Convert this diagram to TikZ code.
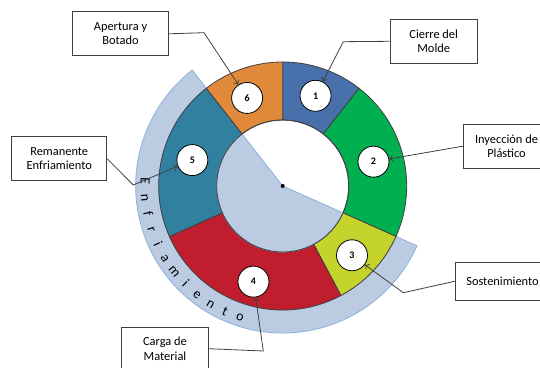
\documentclass[tikz,border=0pt]{standalone}
\usepackage{fontspec}
\usetikzlibrary{arrows.meta}
\setmainfont{Carlito}
\definecolor{segblue}{RGB}{72,112,170}
\definecolor{seggreen}{RGB}{0,176,80}
\definecolor{segyellow}{RGB}{196,212,44}
\definecolor{segred}{RGB}{192,30,46}
\definecolor{segteal}{RGB}{49,128,160}
\definecolor{segorange}{RGB}{226,138,60}
\definecolor{coolfill}{RGB}{187,204,226}
\definecolor{coolline}{RGB}{140,176,220}
\definecolor{darkline}{RGB}{64,64,64}
\newcommand{\ringseg}[3]{\draw[seg, fill=#3] (#1:66) arc (#1:#2:66) -- (#2:124) arc (#2:#1:124) -- cycle;}

\begin{document}
\begin{tikzpicture}
    [x=1pt, y=1pt,
    seg/.style={draw=darkline, line width=0.8pt},
    cool/.style={fill=coolfill, draw=coolline, line width=0.8pt},
    numcirc/.style={circle, draw=black, fill=white, line width=0.8pt, minimum size=31pt, inner sep=0pt, font=\fontsize{10}{10}\selectfont\bfseries},
    callout/.style={rectangle, draw=darkline, fill=white, line width=0.9pt, align=center, minimum height=44pt, inner sep=2pt, font=\fontsize{12.4}{14.5}\selectfont},
    bandtext/.style={anchor=base, inner sep=0pt, font=\fontsize{14}{14}\selectfont},
    arrow/.style={-{To[length=4pt, width=7pt]}, draw=darkline, line width=0.8pt},
    ]
    \useasboundingbox (-282.7,-181) rectangle (257.3,186);
    % enfriamiento band
    \draw[cool] (128:124) arc (128:336:124) -- (336:147) arc (336:128:147) -- cycle;
    % ring
    \ringseg{52}{90}{segblue}
    \ringseg{-24}{52}{seggreen}
    \ringseg{-62}{-24}{segyellow}
    \ringseg{-156}{-62}{segred}
    \ringseg{128}{204}{segteal}
    \ringseg{90}{128}{segorange}
    \draw[cool] (0,0) -- (128:66) arc (128:336:66) -- cycle;
    \draw[seg] (0,0) circle (66);
    \fill (0,0) circle (2);
    \foreach \ch [count=\i] in {E,n,f,r,i,a,m,i,e,n,t,o}
        \node[bandtext, rotate={261.27+6.73*\i}] (e\i) at ({171.27+6.73*\i}:142) {\ch};
    % numbers
    \node[numcirc] (c1) at (70:96) {1};
    \node[numcirc] (c2) at (15:94) {2};
    \node[numcirc] (c3) at (315:98) {3};
    \node[numcirc] (c4) at (253:100) {4};
    \node[numcirc] (c5) at (164:94) {5};
    \node[numcirc] (c6) at (112:95) {6};
    % callouts
    \node[callout, minimum width=95.6pt] (apertura) at (-162.2,152.2) {Apertura y\\Botado};
    \node[callout, minimum width=87.3pt] (cierre) at (151,144.7) {Cierre del\\Molde};
    \node[callout, minimum width=86.4pt] (inyeccion) at (223.8,39.8) {Inyección de\\Plástico};
    \node[callout, minimum width=95pt] (remanente) at (-223.5,27.2) {Remanente\\Enfriamiento};
    \node[callout, minimum width=95pt, minimum height=37.3pt] (sosten) at (219.8,-95.3) {Sostenimiento};
    \node[callout, minimum width=86.6pt, minimum height=42pt] (carga) at (-117.7,-162.7) {Carga de\\Material};
    \coordinate (kapertura) at (-78.7,153.3);
    \coordinate (kcierre) at (60.6,144.3);
    \coordinate (kremanente) at (-149.4,1);
    \coordinate (ksosten) at (120.6,-106.7);
    \coordinate (kcarga) at (-19.4,-165);
    \draw[arrow] (apertura.east) -- (kapertura) -- (c6);
    \draw[arrow] (cierre.west) -- (kcierre) -- (c1);
    \draw[arrow] (inyeccion.west) -- (c2);
    \draw[arrow] (remanente.east) -- (kremanente) -- (c5);
    \draw[arrow] (sosten.west) -- (ksosten) -- (c3);
    \draw[arrow] (carga.east) -- (kcarga) -- (c4);
\end{tikzpicture}
\end{document}
